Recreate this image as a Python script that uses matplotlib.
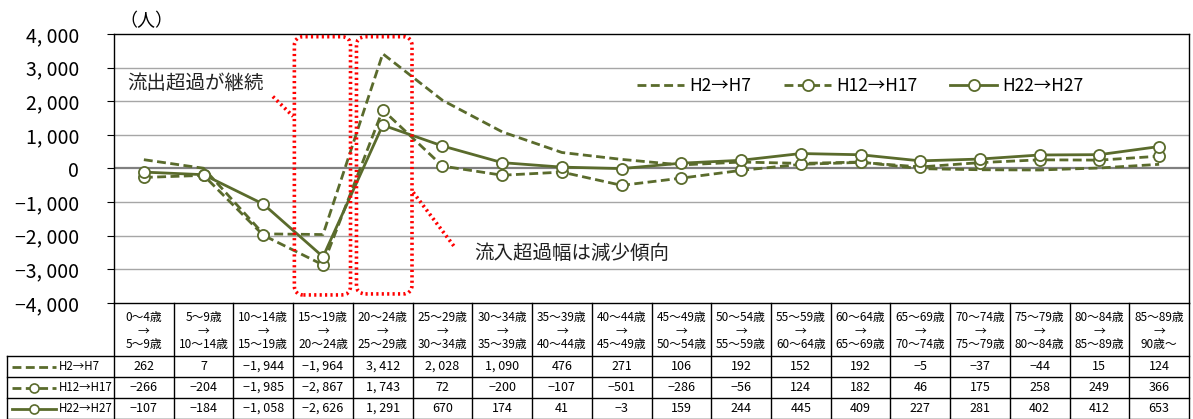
import matplotlib
matplotlib.use("Agg")
import matplotlib.pyplot as plt
from matplotlib.patches import FancyBboxPatch
import numpy as np

plt.rcParams["font.family"] = ["Noto Sans CJK JP", "DejaVu Sans"]

# age groups (from -> to)
age_from = ["0～4歳", "5～9歳", "10～14歳", "15～19歳", "20～24歳", "25～29歳",
            "30～34歳", "35～39歳", "40～44歳", "45～49歳", "50～54歳", "55～59歳",
            "60～64歳", "65～69歳", "70～74歳", "75～79歳", "80～84歳", "85～89歳"]
age_to = ["5～9歳", "10～14歳", "15～19歳", "20～24歳", "25～29歳", "30～34歳",
          "35～39歳", "40～44歳", "45～49歳", "50～54歳", "55～59歳", "60～64歳",
          "65～69歳", "70～74歳", "75～79歳", "80～84歳", "85～89歳", "90歳～"]

series_names = ["H2→H7", "H12→H17", "H22→H27"]
h2_h7 = [262, 7, -1944, -1964, 3412, 2028, 1090, 476, 271, 106, 192, 152, 192, -5, -37, -44, 15, 124]
h12_h17 = [-266, -204, -1985, -2867, 1743, 72, -200, -107, -501, -286, -56, 124, 182, 46, 175, 258, 249, 366]
h22_h27 = [-107, -184, -1058, -2626, 1291, 670, 174, 41, -3, 159, 244, 445, 409, 227, 281, 402, 412, 653]

yticks = [-4000, -3000, -2000, -1000, 0, 1000, 2000, 3000, 4000]

OLIVE = "#5A6B2C"
RED = "#FF0000"
DOTS = (0, (0.6, 0.9))


def fmt(v):
    s = "{:,}".format(abs(v)).replace(",", ", ")
    return ("−" + s) if v < 0 else s


styles = [
    dict(linestyle=(0, (3.2, 1.6)), marker=None),
    dict(linestyle=(0, (3.2, 1.6)), marker="o"),
    dict(linestyle="-", marker="o"),
]
series = [h2_h7, h12_h17, h22_h27]

fig = plt.figure(figsize=(11.93, 4.19), dpi=100)
ax = fig.add_axes([114 / 1193, 116 / 419, 1075 / 1193, 269 / 419])
n = len(age_from)
x = np.arange(n)

for vals, st, name in zip(series, styles, series_names):
    ax.plot(x, vals, color=OLIVE, lw=2.0, linestyle=st["linestyle"],
            marker=st["marker"], markersize=8, markerfacecolor="white",
            markeredgecolor=OLIVE, markeredgewidth=1.3, label=name, zorder=3)

ax.set_xlim(-0.5, n - 0.5)
ax.set_ylim(-4000, 4000)
ax.set_xticks([])
ax.set_yticks(yticks)
ax.set_yticklabels([fmt(v) for v in yticks], fontsize=14)
ax.tick_params(axis="y", length=5, pad=20)
for v in yticks[1:-1]:
    ax.axhline(v, color="#808080" if v == 0 else "#A6A6A6",
               lw=1.6 if v == 0 else 1.0, zorder=1)
for sp in ax.spines.values():
    sp.set_color("black")
    sp.set_linewidth(1.0)

ax.text(0.005, 1.015, "（人）", transform=ax.transAxes, fontsize=13,
        ha="left", va="bottom")

leg = ax.legend(loc="center left", bbox_to_anchor=(0.472, 0.805), ncol=3,
                frameon=False, fontsize=12.5, handlelength=2.7,
                handletextpad=0.3, columnspacing=1.9, numpoints=1)

fig.canvas.draw()


def rbox(x0, x1, y0, y1):
    # rounded dotted box, drawn in inches so the corners stay round
    (px0, py0) = ax.transData.transform((x0, y0))
    (px1, py1) = ax.transData.transform((x1, y1))
    p = FancyBboxPatch((px0 / 100, py0 / 100), (px1 - px0) / 100, (py1 - py0) / 100,
                       boxstyle="round,pad=0,rounding_size=0.09",
                       transform=fig.dpi_scale_trans, fill=False,
                       edgecolor=RED, lw=2.6, linestyle=DOTS, zorder=5)
    fig.add_artist(p)


rbox(2.52, 3.46, -3760, 3920)
rbox(3.56, 4.49, -3730, 3920)
ax.plot([2.16, 2.50], [2140, 1550], color=RED, lw=2.6, linestyle=DOTS, zorder=5)
ax.plot([4.51, 5.21], [-710, -2350], color=RED, lw=2.6, linestyle=DOTS, zorder=5)
ax.text(-0.27, 2530, "流出超過が継続", fontsize=14, ha="left", va="center", color="#222222")
ax.text(5.54, -2530, "流入超過幅は減少傾向", fontsize=14, ha="left", va="center", color="#222222")

# data table under the chart
tb = fig.add_axes([114 / 1193, 0, 1075 / 1193, 116 / 419])
tb.set_xlim(-0.5, n - 0.5)
tb.set_ylim(116, 0)
tb.axis("off")
lab_left = -0.5 - 107 / 59.72
row_edges = [53, 74, 95, 116]
for i in range(n + 1):
    tb.plot([i - 0.5, i - 0.5], [0, 116], color="black", lw=1.0, clip_on=False)
for yy in row_edges:
    tb.plot([lab_left, n - 0.5], [yy, yy], color="black", lw=1.0, clip_on=False)
tb.plot([lab_left, lab_left], [53, 116], color="black", lw=1.0, clip_on=False)

for i in range(n):
    tb.text(i, 14, age_from[i], fontsize=8.5, ha="center", va="center")
    tb.text(i, 28, "→", fontsize=8.5, ha="center", va="center")
    tb.text(i, 41, age_to[i], fontsize=8.5, ha="center", va="center")

for r, (vals, st, name) in enumerate(zip(series, styles, series_names)):
    yc = (row_edges[r] + row_edges[r + 1]) / 2
    for i, v in enumerate(vals):
        tb.text(i, yc, fmt(v), fontsize=9, ha="center", va="center")
    xs = [-0.5 - (114 - 12) / 59.72, -0.5 - (114 - 56) / 59.72]
    tb.plot(xs, [yc, yc], color=OLIVE, lw=2.0, linestyle=st["linestyle"], clip_on=False)
    if st["marker"]:
        tb.plot([(xs[0] + xs[1]) / 2], [yc], marker="o", markersize=6.5,
                markerfacecolor="white", markeredgecolor=OLIVE,
                markeredgewidth=1.2, clip_on=False)
    tb.text(-0.5 - (114 - 59) / 59.72, yc, name, fontsize=8.3, ha="left", va="center")

fig.savefig("out.png", dpi=100)
